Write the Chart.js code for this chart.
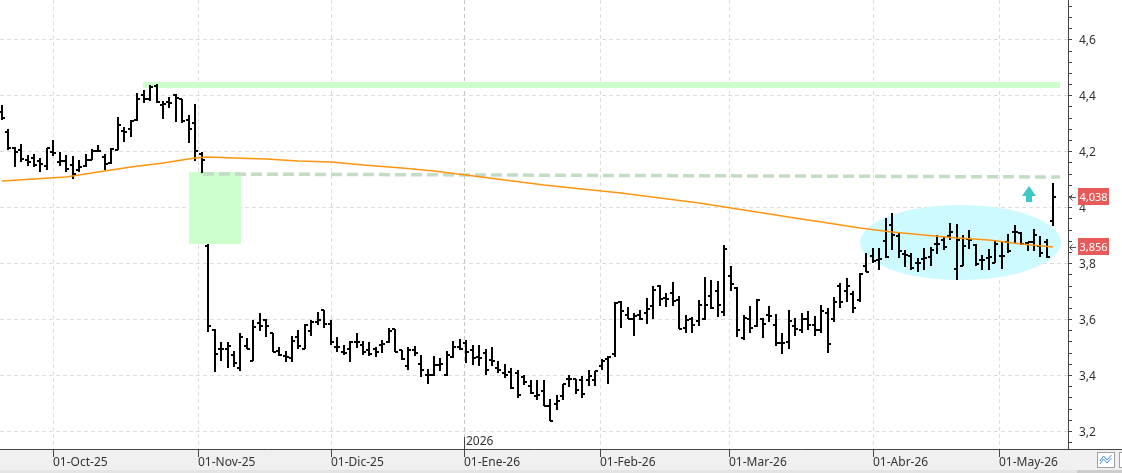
<!DOCTYPE html>
<html>
<head>
<meta charset="utf-8">
<title>Cotización</title>
<style>
  html, body { margin: 0; padding: 0; background: #ffffff; overflow: hidden; }
  canvas { display: block; }
</style>
<script src="https://cdn.jsdelivr.net/npm/chart.js@4/dist/chart.umd.min.js"></script>
</head>
<body>
<canvas id="chart" width="1122" height="473"></canvas>
<script>
Chart.defaults.font.family = "'Noto Sans', sans-serif";
Chart.defaults.font.size = 12;
Chart.defaults.color = '#333333';

// x axis: one step per trading day, month ticks sit on these positions
const monthLabels = ['01-Oct-25', '01-Nov-25', '01-Dic-25', '01-Ene-26', '01-Feb-26', '01-Mar-26', '01-Abr-26', '01-May-26'];
const monthTickPos = [8, 30.5, 51.1, 71.6, 92.8, 112.8, 135, 154.5];
const yearLabel = '2026';
const yearTickPos = 71.6;

// y axis labels
const yLabelValues = [3.2, 3.4, 3.6, 3.8, 4, 4.2, 4.4, 4.6];

// daily bars
const opens = [
  4.34, 4.27, 4.21, 4.206, 4.17, 4.177, 4.164, 4.147, 4.198, 4.162,
  4.165, 4.15, 4.134, 4.146, 4.168, 4.2, 4.18, 4.158, 4.204, 4.273,
  4.279, 4.31, 4.4, 4.385, 4.432, 4.364, 4.376, 4.4, 4.386, 4.313,
  4.301, 4.19, 3.86, 3.56, 3.494, 3.492, 3.472, 3.426, 3.504, 3.45,
  3.585, 3.595, 3.55, 3.485, 3.469, 3.461, 3.536, 3.493, 3.556, 3.588,
  3.631, 3.583, 3.5, 3.481, 3.493, 3.517, 3.508, 3.49, 3.493, 3.508,
  3.517, 3.564, 3.488, 3.433, 3.488, 3.44, 3.401, 3.401, 3.437, 3.401,
  3.464, 3.502, 3.514, 3.49, 3.464, 3.479, 3.455, 3.425, 3.407, 3.41,
  3.407, 3.393, 3.362, 3.324, 3.342, 3.29, 3.298, 3.326, 3.386, 3.386,
  3.383, 3.381, 3.381, 3.431, 3.457, 3.476, 3.66, 3.615, 3.6, 3.615,
  3.621, 3.648, 3.719, 3.675, 3.693, 3.667, 3.568, 3.6, 3.592, 3.6,
  3.683, 3.699, 3.627, 3.755, 3.711, 3.532, 3.6, 3.574, 3.6, 3.615,
  3.58, 3.514, 3.517, 3.576, 3.56, 3.6, 3.58, 3.56, 3.62, 3.6,
  3.72, 3.7, 3.69, 3.67, 3.788, 3.826, 3.812, 3.88, 3.937, 3.898,
  3.833, 3.826, 3.802, 3.814, 3.821, 3.869, 3.881, 3.898, 3.78, 3.79,
  3.886, 3.865, 3.81, 3.818, 3.802, 3.826, 3.874, 3.91, 3.907, 3.871,
  3.877, 3.86, 3.874, 3.949
];
const highs = [
  4.364, 4.281, 4.215, 4.225, 4.186, 4.189, 4.174, 4.213, 4.239, 4.198,
  4.186, 4.182, 4.168, 4.189, 4.207, 4.224, 4.189, 4.213, 4.323, 4.287,
  4.311, 4.408, 4.418, 4.438, 4.439, 4.38, 4.394, 4.406, 4.388, 4.331,
  4.37, 4.197, 3.867, 3.564, 3.518, 3.517, 3.486, 3.552, 3.532, 3.597,
  3.623, 3.599, 3.552, 3.502, 3.485, 3.538, 3.562, 3.583, 3.598, 3.627,
  3.633, 3.598, 3.536, 3.508, 3.52, 3.552, 3.52, 3.517, 3.5, 3.526,
  3.568, 3.564, 3.49, 3.5, 3.505, 3.473, 3.421, 3.469, 3.461, 3.485,
  3.52, 3.529, 3.526, 3.508, 3.508, 3.493, 3.5, 3.449, 3.44, 3.425,
  3.419, 3.401, 3.381, 3.381, 3.383, 3.314, 3.33, 3.369, 3.401, 3.386,
  3.395, 3.419, 3.414, 3.457, 3.467, 3.66, 3.663, 3.643, 3.621, 3.631,
  3.675, 3.719, 3.723, 3.695, 3.731, 3.681, 3.615, 3.607, 3.667, 3.75,
  3.738, 3.735, 3.865, 3.788, 3.714, 3.615, 3.648, 3.671, 3.604, 3.648,
  3.619, 3.55, 3.631, 3.604, 3.62, 3.63, 3.61, 3.65, 3.64, 3.68,
  3.729, 3.746, 3.7, 3.764, 3.836, 3.854, 3.854, 3.961, 3.979, 3.913,
  3.848, 3.836, 3.818, 3.854, 3.857, 3.901, 3.895, 3.945, 3.94, 3.901,
  3.917, 3.869, 3.83, 3.85, 3.881, 3.877, 3.905, 3.937, 3.913, 3.877,
  3.921, 3.898, 3.886, 4.088
];
const lows = [
  4.311, 4.206, 4.144, 4.162, 4.146, 4.142, 4.126, 4.132, 4.182, 4.146,
  4.126, 4.099, 4.126, 4.142, 4.168, 4.198, 4.132, 4.156, 4.204, 4.233,
  4.251, 4.308, 4.373, 4.38, 4.373, 4.314, 4.356, 4.305, 4.301, 4.23,
  4.165, 4.122, 3.555, 3.412, 3.45, 3.424, 3.43, 3.416, 3.492, 3.45,
  3.559, 3.536, 3.481, 3.469, 3.445, 3.445, 3.493, 3.493, 3.538, 3.58,
  3.568, 3.508, 3.481, 3.473, 3.445, 3.496, 3.473, 3.467, 3.464, 3.479,
  3.514, 3.481, 3.455, 3.417, 3.469, 3.393, 3.369, 3.398, 3.413, 3.398,
  3.461, 3.49, 3.443, 3.437, 3.433, 3.401, 3.433, 3.407, 3.389, 3.35,
  3.318, 3.365, 3.333, 3.312, 3.29, 3.235, 3.274, 3.31, 3.357, 3.333,
  3.318, 3.36, 3.36, 3.417, 3.369, 3.464, 3.568, 3.6, 3.538, 3.595,
  3.583, 3.6, 3.648, 3.643, 3.648, 3.564, 3.552, 3.55, 3.576, 3.595,
  3.636, 3.607, 3.612, 3.702, 3.536, 3.524, 3.552, 3.571, 3.532, 3.588,
  3.505, 3.476, 3.493, 3.54, 3.55, 3.56, 3.54, 3.55, 3.48, 3.59,
  3.64, 3.66, 3.62, 3.66, 3.767, 3.8, 3.774, 3.818, 3.848, 3.818,
  3.786, 3.776, 3.77, 3.776, 3.79, 3.833, 3.848, 3.881, 3.738, 3.788,
  3.85, 3.79, 3.774, 3.774, 3.802, 3.779, 3.838, 3.869, 3.866, 3.842,
  3.842, 3.821, 3.818, 3.933
];
const closes = [
  4.32, 4.21, 4.198, 4.173, 4.16, 4.152, 4.156, 4.212, 4.192, 4.164,
  4.138, 4.117, 4.142, 4.17, 4.2, 4.2, 4.154, 4.207, 4.293, 4.27,
  4.308, 4.388, 4.385, 4.43, 4.376, 4.368, 4.373, 4.39, 4.308, 4.281,
  4.2, 4.17, 3.575, 3.475, 3.494, 3.504, 3.442, 3.537, 3.494, 3.57,
  3.575, 3.576, 3.481, 3.473, 3.464, 3.52, 3.505, 3.58, 3.588, 3.595,
  3.583, 3.517, 3.5, 3.479, 3.517, 3.517, 3.481, 3.476, 3.481, 3.512,
  3.556, 3.481, 3.457, 3.488, 3.479, 3.417, 3.401, 3.437, 3.44, 3.473,
  3.502, 3.493, 3.481, 3.461, 3.461, 3.417, 3.452, 3.419, 3.401, 3.354,
  3.33, 3.374, 3.336, 3.33, 3.29, 3.237, 3.306, 3.369, 3.386, 3.348,
  3.333, 3.398, 3.413, 3.452, 3.464, 3.657, 3.629, 3.6, 3.612, 3.6,
  3.636, 3.705, 3.671, 3.671, 3.663, 3.564, 3.595, 3.58, 3.651, 3.651,
  3.64, 3.651, 3.85, 3.726, 3.562, 3.604, 3.568, 3.667, 3.583, 3.612,
  3.514, 3.514, 3.592, 3.564, 3.6, 3.58, 3.56, 3.63, 3.51, 3.66,
  3.66, 3.72, 3.64, 3.76, 3.77, 3.806, 3.814, 3.821, 3.9, 3.844,
  3.83, 3.782, 3.802, 3.818, 3.848, 3.869, 3.857, 3.913, 3.883, 3.862,
  3.881, 3.798, 3.812, 3.821, 3.869, 3.826, 3.845, 3.913, 3.869, 3.874,
  3.901, 3.838, 3.821, 4.038
];

// moving average (orange), read at a few bars
const maIndex = [0, 5, 10, 15, 20, 25, 28, 30, 32, 36, 41, 46, 51, 56, 62, 67, 72, 78, 84, 90, 96, 102, 108, 113, 118, 123, 128, 133, 138, 143, 148, 153, 158, 163];
const maValues = [4.094, 4.1, 4.109, 4.126, 4.142, 4.158, 4.167, 4.174, 4.178, 4.174, 4.171, 4.165, 4.16, 4.152, 4.14, 4.128, 4.116, 4.098, 4.078, 4.064, 4.05, 4.034, 4.014, 3.996, 3.978, 3.96, 3.943, 3.926, 3.912, 3.901, 3.891, 3.881, 3.868, 3.856];

// hand drawn levels (bar index / price)
const resistanceLevel = 4.437;
const resistanceRange = [21.95, 164];
const gapLevels = [4.118, 4.108];
const gapLineRange = [31.15, 164];
const gapBoxRange = [29, 37.1];
const gapBoxLevels = [3.867, 4.126];
const rangeEllipseX = [133, 164.2];
const rangeEllipseY = [3.74, 4.008];
const arrowAt = [159.2, 4.02, 4.077];

const fmt = (v, d) => v.toFixed(d).replace('.', ',');

const tickImage = (side) => {
  const c = document.createElement('canvas');
  c.width = 8;
  c.height = 2;
  const g = c.getContext('2d');
  g.fillStyle = '#000';
  g.fillRect(side === 'open' ? 1 : 4, 0, 3, 2);
  return c;
};

const extras = {
  id: 'extras',
  beforeDraw(chart) {
    const { ctx, chartArea, width, height } = chart;
    ctx.save();
    ctx.fillStyle = '#f0f0f0';
    ctx.fillRect(0, chartArea.bottom, width, height - chartArea.bottom);
    ctx.fillStyle = '#e4e4e4';
    ctx.fillRect(0, height - 3, width, 3);
    ctx.fillStyle = '#cdcdcd';
    ctx.fillRect(1077, height - 3, width - 1077, 3);
    ctx.restore();
  },
  beforeDatasetsDraw(chart) {
    const { ctx, scales: { x, y } } = chart;
    ctx.save();
    // consolidation ellipse
    const ex0 = x.getPixelForValue(rangeEllipseX[0]);
    const ex1 = x.getPixelForValue(rangeEllipseX[1]);
    const ey0 = y.getPixelForValue(rangeEllipseY[1]);
    const ey1 = y.getPixelForValue(rangeEllipseY[0]);
    ctx.fillStyle = 'rgb(204, 250, 255)';
    ctx.beginPath();
    ctx.ellipse((ex0 + ex1) / 2, (ey0 + ey1) / 2, (ex1 - ex0) / 2, (ey1 - ey0) / 2, 0, 0, Math.PI * 2);
    ctx.fill();
    // gap box
    const bx0 = x.getPixelForValue(gapBoxRange[0]);
    const bx1 = x.getPixelForValue(gapBoxRange[1]);
    const by0 = y.getPixelForValue(gapBoxLevels[1]);
    const by1 = y.getPixelForValue(gapBoxLevels[0]);
    ctx.fillStyle = '#ccffcc';
    ctx.fillRect(Math.round(bx0), Math.round(by0), Math.round(bx1 - bx0), Math.round(by1 - by0));
    ctx.restore();
  },
  afterDraw(chart) {
    const { ctx, chartArea, width, scales: { x, y } } = chart;
    ctx.save();

    // bottom axis line runs under the price axis too
    ctx.strokeStyle = '#444';
    ctx.lineWidth = 1;
    ctx.beginPath();
    ctx.moveTo(chartArea.right, chartArea.bottom + 0.5);
    ctx.lineTo(width, chartArea.bottom + 0.5);
    ctx.stroke();

    // year marker
    const yx = Math.round(x.getPixelForValue(yearTickPos)) + 0.5;
    ctx.beginPath();
    ctx.moveTo(yx, chartArea.bottom - 12);
    ctx.lineTo(yx, chartArea.bottom);
    ctx.stroke();
    ctx.fillStyle = '#333';
    ctx.font = "12px 'Noto Sans'";
    ctx.textAlign = 'left';
    ctx.textBaseline = 'middle';
    ctx.fillText(yearLabel, yx + 1.5, chartArea.bottom - 7);

    // up arrow
    const ax = Math.round(x.getPixelForValue(arrowAt[0]));
    const aBase = Math.round(y.getPixelForValue(arrowAt[1]));
    const aTip = Math.round(y.getPixelForValue(arrowAt[2]));
    const headH = Math.round((aBase - aTip) * 0.6);
    ctx.fillStyle = '#3cc8c8';
    ctx.beginPath();
    ctx.moveTo(ax, aTip);
    ctx.lineTo(ax + 7, aTip + headH);
    ctx.lineTo(ax + 3, aTip + headH);
    ctx.lineTo(ax + 3, aBase);
    ctx.lineTo(ax - 3, aBase);
    ctx.lineTo(ax - 3, aTip + headH);
    ctx.lineTo(ax - 7, aTip + headH);
    ctx.closePath();
    ctx.fill();

    // price tags on the axis
    const tag = (value) => {
      const py = Math.round(y.getPixelForValue(value));
      const left = chartArea.right + 10;
      ctx.fillStyle = '#e85a5a';
      ctx.fillRect(left, py - 9, 31, 17);
      ctx.fillStyle = '#ffffff';
      ctx.font = "11px 'Noto Sans'";
      ctx.textAlign = 'center';
      ctx.textBaseline = 'middle';
      ctx.fillText(fmt(value, 3), left + 15.5, py + 0.5);
      ctx.strokeStyle = '#555';
      ctx.beginPath();
      ctx.moveTo(chartArea.right + 8, py + 0.5);
      ctx.lineTo(chartArea.right + 2, py + 0.5);
      ctx.moveTo(chartArea.right + 4.5, py - 2.5);
      ctx.lineTo(chartArea.right + 1.5, py + 0.5);
      ctx.lineTo(chartArea.right + 4.5, py + 3.5);
      ctx.stroke();
    };
    tag(closes[closes.length - 1]);
    tag(maValues[maValues.length - 1]);

    // chart-type buttons, bottom right
    ctx.fillStyle = '#ffffff';
    ctx.strokeStyle = '#a0a0a0';
    ctx.fillRect(1097, 452, 17, 15);
    ctx.strokeRect(1097.5, 452.5, 17, 15);
    ctx.fillRect(1119, 452, 6, 15);
    ctx.strokeRect(1119.5, 452.5, 6, 15);
    ctx.strokeStyle = '#3d8fd6';
    ctx.beginPath();
    ctx.moveTo(1100, 461); ctx.lineTo(1103.5, 456); ctx.lineTo(1107, 460); ctx.lineTo(1111.5, 455);
    ctx.moveTo(1100, 464); ctx.lineTo(1103.5, 459); ctx.lineTo(1107, 463); ctx.lineTo(1111.5, 458);
    ctx.stroke();

    ctx.restore();
  }
};

const gridColor = '#dddddd';

new Chart(document.getElementById('chart'), {
  type: 'bar',
  data: {
    datasets: [
      {
        type: 'line',
        label: 'Media',
        data: maIndex.map((i, k) => ({ x: i, y: maValues[k] })),
        borderColor: '#ff9410',
        borderWidth: 1.5,
        pointRadius: 0,
        tension: 0,
        order: 0
      },
      {
        type: 'line',
        label: 'Apertura',
        data: opens.map((v, i) => ({ x: i, y: v })),
        showLine: false,
        pointStyle: tickImage('open'),
        pointRadius: 3,
        order: 1
      },
      {
        type: 'line',
        label: 'Cierre',
        data: closes.map((v, i) => ({ x: i, y: v })),
        showLine: false,
        pointStyle: tickImage('close'),
        pointRadius: 3,
        order: 1
      },
      {
        type: 'bar',
        label: 'Rango',
        data: highs.map((h, i) => ({ x: i, y: [lows[i], h] })),
        backgroundColor: '#000000',
        borderWidth: 0,
        barThickness: 2,
        inflateAmount: 0,
        grouped: false,
        order: 2
      },
      {
        type: 'line',
        label: 'Hueco',
        data: gapLineRange.map((i, k) => ({ x: i, y: gapLevels[k] })),
        borderColor: '#c4dcc4',
        borderWidth: 3.5,
        borderDash: [11, 5],
        pointRadius: 0,
        order: 3
      },
      {
        type: 'line',
        label: 'Resistencia',
        data: resistanceRange.map((i) => ({ x: i, y: resistanceLevel })),
        borderColor: '#ccffcc',
        borderWidth: 6,
        pointRadius: 0,
        order: 4
      }
    ]
  },
  options: {
    responsive: false,
    animation: false,
    devicePixelRatio: 1,
    layout: { padding: 0, autoPadding: false },
    plugins: {
      legend: { display: false },
      tooltip: { enabled: false }
    },
    scales: {
      x: {
        type: 'linear',
        min: -0.263,
        max: 165.27,
        offset: false,
        alignToPixels: true,
        afterBuildTicks: (scale) => {
          scale.ticks = monthTickPos.map((v) => ({ value: v }));
        },
        afterFit: (scale) => {
          scale.height = 24;
          scale.paddingLeft = 0;
          scale.paddingRight = 0;
        },
        ticks: {
          autoSkip: false,
          maxRotation: 0,
          minRotation: 0,
          align: 'start',
          padding: -2,
          color: '#333',
          font: { size: 12 },
          callback: (value, index) => monthLabels[index]
        },
        grid: {
          offset: false,
          color: (c) => (c.tick && Math.abs(c.tick.value - yearTickPos) < 1e-6 ? '#c6c6c6' : gridColor),
          tickColor: '#444',
          tickLength: 8,
          lineWidth: 1
        },
        border: { color: '#444', width: 1, dash: [4, 3] }
      },
      y: {
        position: 'right',
        min: 3.1357,
        max: 4.7405,
        alignToPixels: true,
        afterFit: (scale) => {
          scale.width = 54;
          scale.paddingTop = 0;
          scale.paddingBottom = 0;
        },
        ticks: {
          stepSize: 0.04,
          includeBounds: false,
          autoSkip: false,
          padding: 7,
          labelOffset: 1.5,
          color: '#333',
          font: { size: 12 },
          callback: (value) => (yLabelValues.some((l) => Math.abs(l - value) < 1e-6)
            ? fmt(value, 1).replace(/,0$/, '')
            : '')
        },
        grid: {
          color: (c) => (c.tick && yLabelValues.some((l) => Math.abs(l - c.tick.value) < 1e-6) ? gridColor : 'rgba(0,0,0,0)'),
          tickColor: '#444',
          tickLength: 4,
          lineWidth: 1
        },
        border: { color: '#444', width: 1, dash: [4, 3] }
      }
    }
  },
  plugins: [extras]
});
</script>
</body>
</html>
